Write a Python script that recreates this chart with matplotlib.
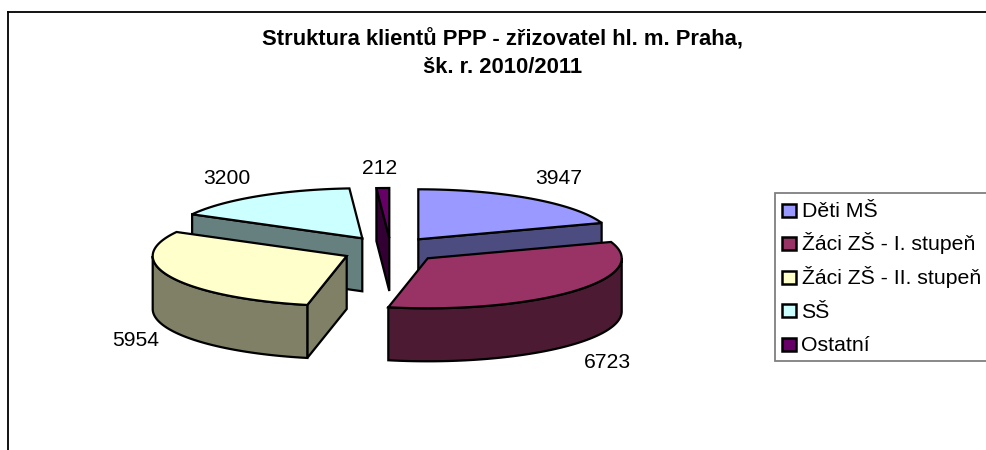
import numpy as np
import matplotlib
matplotlib.use("Agg")
import matplotlib.pyplot as plt
from matplotlib.patches import Polygon, Rectangle
from matplotlib.lines import Line2D

plt.rcParams['font.family'] = ['Liberation Sans', 'DejaVu Sans']

title = "Struktura klientů PPP - zřizovatel hl. m. Praha,\nšk. r. 2010/2011"
categories = ["Děti MŠ", "Žáci ZŠ - I. stupeň", "Žáci ZŠ - II. stupeň", "SŠ", "Ostatní"]
values = [3947, 6723, 5954, 3200, 212]

top_colors = ["#9999FF", "#993366", "#FFFFCC", "#CCFFFF", "#660066"]
side_colors = ["#4C4C80", "#4C1A33", "#808066", "#668080", "#330033"]

# Layout (pixels of the figure)
apex = [(418.3, 239.3), (427.7, 258.3), (346.7, 256.0), (362.3, 238.3), (389.3, 238.0)]
label_pos = [(559, 178), (607, 362), (136, 341), (227, 178), (380, 168)]
Rx, Ry, depth = 194.0, 50.0, 53.0
draw_order = [0, 3, 4, 2, 1]
EDGE = 1.6
LEG_ROW0, LEG_STEP = 210.0, 33.5

fig = plt.figure(figsize=(9.87, 4.5), dpi=100)
ax = fig.add_axes([0, 0, 1, 1])
ax.set_xlim(0, 987)
ax.set_ylim(450, 0)
ax.axis("off")

# chart frame: top and left only are in view
ax.add_line(Line2D([7.5, 987], [11.5, 11.5], color="black", lw=1.3))
ax.add_line(Line2D([7.5, 7.5], [11.5, 450], color="black", lw=1.3))

edges = np.cumsum([0] + values) / sum(values) * 2 * np.pi


def rim(c, a0, a1, dz=0.0):
    n = max(2, int(abs(a1 - a0) * 60))
    a = np.linspace(a0, a1, n)
    return np.column_stack([c[0] + Rx * np.sin(a), c[1] - Ry * np.cos(a) + dz])


def poly(pts, color, z):
    ax.add_patch(Polygon(pts, closed=True, facecolor=color, edgecolor="black",
                         lw=EDGE, joinstyle="miter", zorder=z))


z = 2
for i in draw_order:
    c = apex[i]
    a0, a1 = edges[i], edges[i + 1]
    p0 = rim(c, a0, a0)[0]
    p1 = rim(c, a1, a1)[0]
    # start wall
    if np.sin(a0) < 0:
        poly([c, p0, p0 + [0, depth], (c[0], c[1] + depth)], side_colors[i], z)
    # end wall
    if np.sin(a1) > 1e-6:
        poly([c, p1, p1 + [0, depth], (c[0], c[1] + depth)], side_colors[i], z)
    # outer wall: visible between 90 and 270 degrees
    w0, w1 = max(a0, np.pi / 2), min(a1, 3 * np.pi / 2)
    if w1 > w0:
        poly(np.vstack([rim(c, w0, w1), rim(c, w1, w0, depth)]), side_colors[i], z)
    # top
    poly(np.vstack([[c], rim(c, a0, a1)]), top_colors[i], z + 0.5)
    z += 1

for v, (x, y) in zip(values, label_pos):
    ax.text(x, y, str(v), ha="center", va="center", fontsize=15.2, color="black", zorder=20)

ax.text(502.5, 53.5, title, ha="center", va="center", fontsize=15.8, fontweight="bold",
        linespacing=1.39, color="black", zorder=20)

# legend box, open past the right edge of the picture
ax.add_patch(Rectangle((775, 192.7), 300, 168, facecolor="white", edgecolor="#7F7F7F",
                       lw=1.3, zorder=10))
for k, (name, col) in enumerate(zip(categories, top_colors)):
    yc = LEG_ROW0 + k * LEG_STEP
    ax.add_patch(Rectangle((782, yc - 6.5), 13.5, 13, facecolor=col, edgecolor="black",
                           lw=1.8, zorder=11))
    ax.text(801.5, yc + 7, name, ha="left", va="baseline", fontsize=15.3, color="black", zorder=12)

fig.savefig("out.png", dpi=100)
